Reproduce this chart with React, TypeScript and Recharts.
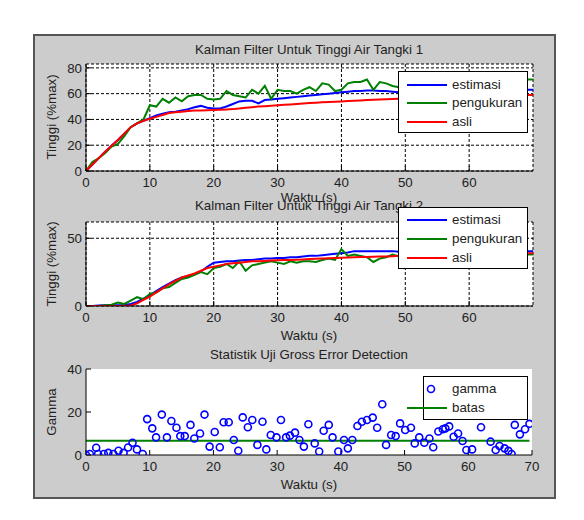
import React from 'react';
import { ComposedChart, Line, Scatter, XAxis, YAxis, CartesianGrid } from 'recharts';

// waktu (s) untuk tangki 1 dan 2
const waktu = [
  0, 1, 2, 3, 4, 5, 6, 7, 8, 9, 10, 11, 12, 13, 14, 15, 16, 17, 18, 19, 20,
  21, 22, 23, 24, 25, 26, 27, 28, 29, 30, 31, 32, 33, 34, 35, 36, 37, 38, 39, 40,
  41, 42, 43, 44, 45, 46, 47, 48, 49, 50, 51, 52, 53, 54, 55, 56, 57, 58, 59, 60,
  61, 62, 63, 64, 65, 66, 67, 68, 69, 70,
];

const estimasi1 = [
  0, 5, 10, 15, 19.5, 24, 29, 34, 37, 39, 41,
  43, 44.5, 45.5, 46, 47, 48, 49.5, 50.5, 49, 48.5,
  48.5, 50, 52, 54, 54.5, 54.5, 52.5, 55, 55.5, 56,
  56.5, 57, 57.5, 58, 58.5, 59, 59.5, 60, 60.5, 61,
  61.5, 62, 62, 62.5, 62.5, 62, 62, 61.5, 61, 61,
  61.5, 61.5, 62, 62, 62, 62, 62.5, 62.5, 62.5, 62.5,
  62.5, 62.5, 63, 63, 63, 63, 63, 63, 63, 63,
];
const pengukuran1 = [
  0, 7, 10, 14, 19, 21, 27, 34, 37, 40, 51,
  50, 56, 53, 57, 54, 58, 59, 59, 56, 55.5,
  56, 62, 59, 58, 57, 63, 60, 66, 56, 63,
  62, 62, 60, 63, 65, 62, 68, 67, 62, 63,
  68, 69, 69, 71, 63, 69, 68, 66, 65, 66,
  67, 68, 66, 69, 70, 68, 70, 69, 71, 70,
  69, 71, 70, 72, 70, 71, 71, 70, 71, 71,
];
const asli1 = [
  0, 5, 10, 15, 19.5, 24, 29, 34, 37, 39, 40.5,
  42, 43.5, 45, 45.5, 46, 46.5, 47, 47, 47.2, 47.4,
  47.5, 47.7, 48, 48.5, 49, 49.5, 50, 50.3, 50.6, 51,
  51.3, 51.6, 52, 52.4, 52.7, 53, 53.3, 53.5, 53.7, 54,
  54.3, 54.5, 54.7, 55, 55.2, 55.4, 55.6, 55.8, 56, 56.2,
  56.4, 56.6, 56.8, 57, 57.2, 57.4, 57.6, 57.8, 58, 58.1,
  58.2, 58.3, 58.4, 58.5, 58.6, 58.7, 58.8, 58.9, 59, 59,
];

const estimasi2 = [
  0, 0, 0.3, 0.5, 0.5, 0.5, 0.8, 1.5, 3, 5.5, 8,
  11, 14, 16.5, 19, 21, 22, 23.5, 25.5, 29, 32,
  32.5, 33, 33, 33.5, 34, 34, 34.5, 35, 35, 35.5,
  35.5, 36, 36, 36.5, 37, 37, 37.5, 38, 38.5, 39,
  39.5, 40.5, 40.5, 40.5, 40.5, 40.5, 40.5, 40.5, 40, 40,
  40, 40, 40, 40.5, 40.5, 40.5, 40.5, 40.5, 40.5, 40.5,
  40.5, 40.5, 40.5, 40.5, 40.5, 40.5, 40.5, 40.5, 40.5, 40.5,
];
const pengukuran2 = [
  0, 0, 0, 0.5, 1, 2.5, 1.5, 4, 6.5, 5, 9,
  10, 13, 14, 17, 20, 21, 23, 25, 23.5, 28,
  29, 31, 28, 33, 26, 30, 31, 32, 33, 32,
  31, 33, 32, 33, 33, 32.5, 34, 35, 34, 42,
  37, 38, 37, 36, 32.5, 35, 36, 38, 36.5, 37,
  37, 38, 37, 38, 37.5, 38, 37, 38, 38.5, 38,
  37.5, 38, 38.5, 37.5, 38, 38, 37.5, 38, 38, 38,
];
const asli2 = [
  0, 0, 0, 0, 0, 0, 0, 0.3, 2, 4.5, 7,
  10, 13, 16, 18.5, 21, 22.5, 24, 26, 28, 29,
  30, 31, 31.5, 32, 32.5, 33, 33, 33.3, 33.5, 33.7,
  34, 34, 34.2, 34.4, 34.6, 34.8, 35, 35.2, 35.4, 35.6,
  35.8, 36, 36.1, 36.2, 36.4, 36.5, 36.6, 36.8, 37, 37.1,
  37.2, 37.4, 37.5, 37.6, 37.8, 37.9, 38, 38.1, 38.2, 38.4,
  38.5, 38.6, 38.6, 38.7, 38.8, 38.8, 38.9, 38.9, 39, 39,
];

// statistik uji gross error
const gammaWaktu = [
  0, 0.6, 1.6, 1.9, 2.8, 3.5, 4.3, 5.1, 5.9, 6.6,
  7.3, 8.0, 8.9, 9.6, 10.4, 11.0, 11.9, 12.7, 13.4, 14.2,
  14.8, 15.5, 16.4, 17.0, 17.9, 18.6, 19.4, 20.2, 21.0, 21.6,
  22.4, 23.2, 23.9, 24.6, 25.4, 26.1, 26.9, 27.7, 28.3, 29.0,
  29.9, 30.6, 31.4, 32.0, 32.8, 33.5, 34.2, 34.9, 35.9, 36.6,
  37.3, 38.1, 38.7, 39.6, 40.5, 41.1, 41.8, 42.6, 43.3, 44.1,
  45.0, 45.7, 46.5, 47.1, 47.9, 48.6, 49.3, 50.1, 51.0, 51.6,
  52.3, 53.1, 53.9, 54.5, 55.3, 56.0, 56.4, 57.0, 57.7, 58.4,
  59.1, 59.7, 60.6, 62.0, 63.5, 64.3, 64.9, 65.7, 66.3, 66.8,
  67.3, 68.1, 68.9, 69.6,
];
const gamma = [
  0, 0.5, 3.4, 0.5, 0.5, 1, 0.5, 2, 1, 3.5,
  5.7, 2.6, 0.5, 16.7, 12.4, 8.2, 18.8, 8.2, 15.8, 12.7,
  8.8, 8.8, 14, 7.7, 10, 18.8, 3.9, 10.7, 3.6, 15.2,
  15.2, 7, 2, 17.5, 12.9, 16.3, 4.7, 15.5, 2.6, 9.3,
  8.2, 16.3, 8.2, 9, 10.4, 7, 3.9, 14.3, 5.4, 1.6,
  11.3, 14, 8.2, 1.6, 7, 3.1, 7, 13.5, 15.5, 16.3,
  17.4, 12.7, 23.6, 4.7, 9.3, 8.8, 14.7, 11.6, 12.7, 5.4,
  8.2, 5.7, 7.7, 3.6, 10.9, 12, 12.4, 13.3, 8.5, 10,
  6.5, 2.3, 2.6, 12.9, 6.2, 2.3, 4.2, 3.1, 1.9, 0.5,
  14, 9.6, 12, 14.5,
];
const batasWaktu = [0, 69.6];
const batas = [6.6, 6.6];

const xTicksTangki = [0, 10, 20, 30, 40, 50, 60];
const xTicksGamma = [0, 10, 20, 30, 40, 50, 60, 70];
const yTicks1 = [0, 20, 40, 60, 80];
const yTicks2 = [0, 50];
const yTicks3 = [0, 20, 40];

const titles = [
  'Kalman Filter Untuk Tinggi Air Tangki 1',
  'Kalman Filter Untuk Tinggi Air Tangki 2',
  'Statistik Uji Gross Error Detection',
];
const xLabel = 'Waktu (s)';
const yLabels = ['Tinggi (%max)', 'Tinggi (%max)', 'Gamma'];
const seriesNames = ['estimasi', 'pengukuran', 'asli'];
const seriesColors = ['#0000ff', '#008000', '#ff0000'];
const gammaNames = ['gamma', 'batas'];

const tangki1 = waktu.map((t, i) => ({ t, est: estimasi1[i], ukur: pengukuran1[i], asli: asli1[i] }));
const tangki2 = waktu.map((t, i) => ({ t, est: estimasi2[i], ukur: pengukuran2[i], asli: asli2[i] }));
const gammaData = gammaWaktu.map((t, i) => ({ t, g: gamma[i] }));
const batasData = batasWaktu.map((t, i) => ({ t, b: batas[i] }));

const FONT = '"Liberation Sans", Arial, Helvetica, sans-serif';
const FS = 13.3;
const TXT = '#222';
const tickStyle = { fontSize: FS, fill: TXT, fontFamily: FONT };
const PLOT_LEFT = 86;
const PAD_T = 10;
const PAD_B = 40;

function Panel({ plotTop, plotBottom, plotRight, yMax, yTicks, xTicks, grid, data, children }: any) {
  const h = plotBottom - plotTop;
  return (
    <div style={{ position: 'absolute', left: 0, top: plotTop - PAD_T }}>
      <ComposedChart
        width={584}
        height={h + PAD_T + PAD_B}
        data={data}
        margin={{ top: PAD_T, right: 584 - plotRight, bottom: PAD_B - 20, left: PLOT_LEFT - 40 }}
      >
        <CartesianGrid
          fill="#fff"
          stroke="#000"
          strokeDasharray="3 2"
          horizontal={grid}
          vertical={grid}
        />
        <XAxis
          dataKey="t"
          type="number"
          domain={[0, 70]}
          ticks={xTicks}
          interval={0}
          allowDataOverflow
          height={20}
          tickSize={-5}
          tickMargin={12}
          stroke="#000"
          tick={tickStyle}
        />
        <XAxis
          xAxisId="top"
          orientation="top"
          dataKey="t"
          type="number"
          domain={[0, 70]}
          ticks={xTicks}
          interval={0}
          allowDataOverflow
          height={0}
          tickSize={-5}
          stroke="#000"
          tick={false}
        />
        <YAxis
          type="number"
          domain={[0, yMax]}
          ticks={yTicks}
          interval={0}
          allowDataOverflow
          width={40}
          tickSize={-5}
          tickMargin={9}
          stroke="#000"
          tick={tickStyle}
        />
        <YAxis
          yAxisId="right"
          orientation="right"
          type="number"
          domain={[0, yMax]}
          ticks={yTicks}
          interval={0}
          allowDataOverflow
          width={0}
          tickSize={-5}
          stroke="#000"
          tick={false}
        />
        {children}
      </ComposedChart>
    </div>
  );
}

function Text({ x, y, children, rotate }: any) {
  return (
    <div
      style={{
        position: 'absolute',
        left: x,
        top: y,
        transform: rotate ? 'translate(-50%, -50%) rotate(-90deg)' : 'translate(-50%, -50%)',
        whiteSpace: 'nowrap',
        fontSize: FS,
        lineHeight: '13px',
        color: TXT,
      }}
    >
      {children}
    </div>
  );
}

function LegendBox({ left, top, width, height, children }: any) {
  return (
    <div
      style={{
        position: 'absolute',
        left,
        top,
        width,
        height,
        boxSizing: 'border-box',
        background: '#fff',
        border: '1px solid #000',
        fontSize: FS,
        color: TXT,
      }}
    >
      {children}
    </div>
  );
}

function LegendRow({ y, color, name, marker }: any) {
  return (
    <div style={{ position: 'absolute', left: 0, top: y - 8, height: 16, width: '100%' }}>
      <svg width={52} height={16} style={{ position: 'absolute', left: 6, top: 0 }}>
        {marker ? (
          <circle cx={26} cy={8} r={3.5} fill="none" stroke={color} strokeWidth={1.6} />
        ) : (
          <line x1={2} y1={8} x2={42} y2={8} stroke={color} strokeWidth={2} />
        )}
      </svg>
      <span style={{ position: 'absolute', left: 53, top: 0, lineHeight: '16px' }}>{name}</span>
    </div>
  );
}

const circleShape = (p: any) => (
  <circle cx={p.cx} cy={p.cy} r={3.5} fill="none" stroke="#0000ff" strokeWidth={1.6} />
);

export default function App() {
  const lineProps = { type: 'linear' as const, dot: false, activeDot: false, strokeWidth: 2, isAnimationActive: false };
  return (
    <div style={{ position: 'absolute', left: 0, top: 0, width: 584, height: 520, background: '#fff', fontFamily: FONT }}>
      <div
        style={{
          position: 'absolute',
          left: 33,
          top: 34,
          width: 523,
          height: 465,
          boxSizing: 'border-box',
          background: '#cccccc',
          border: '2px solid #555',
        }}
      />

      <Panel plotTop={64} plotBottom={171} plotRight={533} yMax={83} yTicks={yTicks1} xTicks={xTicksTangki} grid data={tangki1}>
        <Line {...lineProps} dataKey="est" name={seriesNames[0]} stroke={seriesColors[0]} />
        <Line {...lineProps} dataKey="ukur" name={seriesNames[1]} stroke={seriesColors[1]} />
        <Line {...lineProps} dataKey="asli" name={seriesNames[2]} stroke={seriesColors[2]} />
      </Panel>

      <Panel plotTop={222} plotBottom={306} plotRight={533} yMax={62} yTicks={yTicks2} xTicks={xTicksTangki} grid data={tangki2}>
        <Line {...lineProps} dataKey="est" name={seriesNames[0]} stroke={seriesColors[0]} />
        <Line {...lineProps} dataKey="ukur" name={seriesNames[1]} stroke={seriesColors[1]} />
        <Line {...lineProps} dataKey="asli" name={seriesNames[2]} stroke={seriesColors[2]} />
      </Panel>

      <Panel plotTop={369} plotBottom={455} plotRight={532} yMax={40} yTicks={yTicks3} xTicks={xTicksGamma} grid={false} data={gammaData}>
        <Scatter data={gammaData} dataKey="g" name={gammaNames[0]} shape={circleShape} isAnimationActive={false} />
        <Line {...lineProps} data={batasData} dataKey="b" name={gammaNames[1]} stroke="#008000" />
      </Panel>

      <Text x={309} y={49}>{titles[0]}</Text>
      <Text x={309} y={197}>{xLabel}</Text>
      <Text x={309} y={205}>{titles[1]}</Text>
      <Text x={309} y={335}>{xLabel}</Text>
      <Text x={309} y={354}>{titles[2]}</Text>
      <Text x={309} y={484}>{xLabel}</Text>
      <Text x={51} y={117} rotate>{yLabels[0]}</Text>
      <Text x={51} y={264} rotate>{yLabels[1]}</Text>
      <Text x={51} y={412} rotate>{yLabels[2]}</Text>

      <LegendBox left={398} top={71} width={130} height={62}>
        {seriesNames.map((n, i) => (
          <LegendRow key={n} y={12.5 + i * 18.5} color={seriesColors[i]} name={n} />
        ))}
      </LegendBox>
      <LegendBox left={398} top={207} width={130} height={62}>
        {seriesNames.map((n, i) => (
          <LegendRow key={n} y={11.5 + i * 19} color={seriesColors[i]} name={n} />
        ))}
      </LegendBox>
      <LegendBox left={423} top={376} width={105} height={44}>
        <div style={{ position: 'absolute', left: -25, top: 0, width: 130, height: 44 }}>
          <LegendRow y={12} color="#0000ff" name={gammaNames[0]} marker />
          <LegendRow y={31} color="#008000" name={gammaNames[1]} />
        </div>
      </LegendBox>
    </div>
  );
}
